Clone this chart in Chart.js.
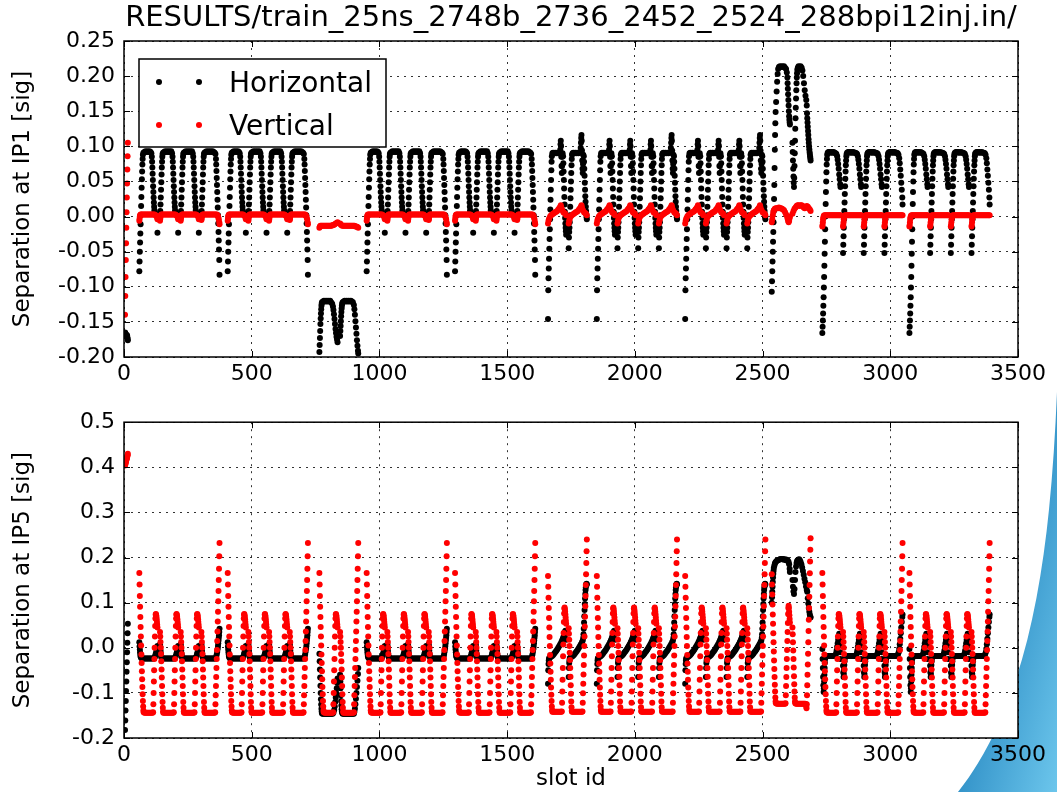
<!DOCTYPE html>
<html>
<head>
<meta charset="utf-8">
<title>Beam separation at IP1 and IP5</title>
<script src="https://cdn.jsdelivr.net/npm/chart.js@4.4.1/dist/chart.umd.min.js"></script>
<style>
  html, body { margin: 0; padding: 0; background: #fff; }
  body { width: 1057px; height: 792px; position: relative; overflow: hidden; }
  #swoosh { position: absolute; left: 0; top: 0; }
  canvas { position: absolute; left: 0; }
  #ip1Canvas { top: 0; }
  #ip5Canvas { top: 400px; }
</style>
</head>
<body>
<svg id="swoosh" width="1057" height="792">
  <defs>
    <linearGradient id="swooshFill" x1="0" y1="0" x2="1" y2="1">
      <stop offset="0" stop-color="#1d5a8a"/>
      <stop offset="0.45" stop-color="#2f8fc6"/>
      <stop offset="1" stop-color="#6cc6ec"/>
    </linearGradient>
  </defs>
  <path d="M1057,392 C1050,560 1030,700 958,792 L1057,792 Z" fill="url(#swooshFill)"/>
</svg>
<canvas id="ip1Canvas" width="1057" height="400"></canvas>
<canvas id="ip5Canvas" width="1057" height="392"></canvas>
<script>
// axis ticks
const slotTicks = [0, 500, 1000, 1500, 2000, 2500, 3000, 3500];
const ip1Ticks = [-0.20, -0.15, -0.10, -0.05, 0.00, 0.05, 0.10, 0.15, 0.20, 0.25];
const ip5Ticks = [-0.2, -0.1, 0.0, 0.1, 0.2, 0.3, 0.4, 0.5];

// filling scheme: 12 pilot bunches, then trains of 72-bunch batches
const pilotSlots = [4, 5, 6, 7, 8, 9, 10, 11, 12, 13, 14, 15];
const trainStarts = [60, 406, 765, 950, 1296, 1660, 1851, 2197, 2536, 2734, 3075];
const trainBatches = [4, 4, 2, 4, 4, 2, 4, 4, 2, 4, 4];
const trainKinds = ['std', 'std', 'neg', 'std', 'std', 'ramp', 'ramp', 'ramp', 'high', 'wave', 'wave'];
const batchSpacing = 81;

// pilot bunches
const ip1H_pilot = [-0.165, -0.166, -0.167, -0.168, -0.169, -0.170, -0.171, -0.170, -0.169, -0.172, -0.174, -0.176];
const ip1V_pilot = [-0.140, -0.113, -0.086, -0.062, -0.038, -0.016, 0.006, 0.027, 0.047, 0.067, 0.086, 0.105];
const ip5H_pilot = [-0.182, -0.161, -0.139, -0.118, -0.096, -0.075, -0.053, -0.032, -0.010, 0.011, 0.032, 0.053];
const ip5V_pilot = [0.404, 0.406, 0.409, 0.411, 0.414, 0.416, 0.418, 0.420, 0.422, 0.425, 0.427, 0.430];

// IP1 horizontal, [bunch in batch, separation]
const ip1H_stdFirst = [[0,-0.078],[1,-0.064],[2,-0.050],[3,-0.037],[4,-0.024],[5,-0.011],[6,0.002],[7,0.015],[8,0.028],[9,0.041],[10,0.053],[11,0.064],[12,0.074],[13,0.082],[14,0.088],[16,0.091],[20,0.092],[24,0.093],[28,0.092],[32,0.093],[36,0.092],[40,0.093],[44,0.092],[47,0.090],[49,0.085],[50,0.078],[51,0.070],[52,0.061],[53,0.052],[54,0.043],[55,0.035],[56,0.027],[57,0.020],[58,0.014],[59,0.009],[60,0.006],[62,0.004],[65,0.003],[68,0.003],[71,-0.023]];
const ip1H_stdMid = [[0,0.000],[1,0.008],[2,0.017],[3,0.027],[4,0.038],[5,0.049],[6,0.060],[7,0.070],[8,0.078],[9,0.085],[10,0.089],[12,0.091],[16,0.092],[20,0.093],[24,0.092],[28,0.093],[32,0.092],[36,0.093],[40,0.092],[44,0.093],[47,0.090],[49,0.085],[50,0.078],[51,0.070],[52,0.061],[53,0.052],[54,0.043],[55,0.035],[56,0.027],[57,0.020],[58,0.014],[59,0.009],[60,0.006],[62,0.004],[65,0.003],[68,0.003],[71,-0.023]];
const ip1H_stdLast = [[0,0.000],[1,0.008],[2,0.017],[3,0.027],[4,0.038],[5,0.049],[6,0.060],[7,0.070],[8,0.078],[9,0.085],[10,0.089],[12,0.091],[16,0.092],[20,0.093],[24,0.092],[28,0.093],[32,0.092],[36,0.093],[40,0.092],[44,0.093],[48,0.092],[52,0.091],[55,0.089],[57,0.082],[58,0.074],[59,0.065],[60,0.055],[61,0.045],[62,0.035],[63,0.024],[64,0.013],[65,0.002],[66,-0.010],[67,-0.022],[68,-0.034],[69,-0.047],[70,-0.062],[71,-0.083]];
const ip1H_negFirst = [[0,-0.193],[1,-0.183],[2,-0.173],[3,-0.163],[4,-0.153],[5,-0.145],[6,-0.138],[7,-0.132],[8,-0.127],[9,-0.124],[10,-0.122],[14,-0.121],[18,-0.120],[22,-0.121],[26,-0.120],[30,-0.121],[34,-0.120],[38,-0.121],[42,-0.120],[46,-0.122],[50,-0.124],[53,-0.128],[55,-0.133],[57,-0.139],[59,-0.146],[61,-0.153],[63,-0.160],[65,-0.166],[67,-0.171],[69,-0.175],[71,-0.179]];
const ip1H_negLast = [[0,-0.170],[1,-0.163],[2,-0.156],[3,-0.149],[4,-0.142],[5,-0.136],[6,-0.131],[7,-0.127],[8,-0.124],[10,-0.122],[14,-0.121],[18,-0.120],[22,-0.121],[26,-0.120],[30,-0.121],[34,-0.120],[38,-0.121],[42,-0.120],[46,-0.121],[50,-0.122],[54,-0.126],[56,-0.132],[58,-0.140],[60,-0.149],[62,-0.158],[64,-0.167],[66,-0.176],[68,-0.184],[70,-0.191],[71,-0.195]];
const ip1H_rampFirst = [[0,-0.146],[1,-0.105],[2,-0.088],[3,-0.074],[4,-0.060],[5,-0.046],[6,-0.032],[7,-0.018],[8,-0.004],[9,0.010],[10,0.024],[11,0.038],[12,0.052],[13,0.066],[14,0.078],[15,0.086],[17,0.090],[20,0.091],[24,0.090],[28,0.091],[32,0.090],[36,0.091],[40,0.090],[44,0.091],[48,0.095],[49,0.103],[50,0.108],[51,0.100],[52,0.085],[53,0.072],[54,0.062],[55,0.072],[56,0.085],[57,0.090],[59,0.086],[60,0.076],[61,0.064],[62,0.052],[63,0.040],[64,0.028],[65,0.017],[66,0.007],[67,-0.002],[68,-0.010],[69,-0.016],[70,-0.021],[71,-0.026]];
const ip1H_rampMid = [[0,-0.045],[1,-0.030],[2,-0.022],[3,-0.016],[4,-0.008],[5,0.002],[6,0.014],[7,0.026],[8,0.038],[9,0.050],[10,0.062],[11,0.073],[12,0.082],[13,0.088],[15,0.090],[18,0.091],[22,0.090],[26,0.091],[30,0.090],[34,0.091],[38,0.090],[42,0.091],[45,0.090],[48,0.095],[49,0.103],[50,0.108],[51,0.100],[52,0.085],[53,0.072],[54,0.062],[55,0.072],[56,0.085],[57,0.090],[59,0.086],[60,0.076],[61,0.064],[62,0.052],[63,0.040],[64,0.028],[65,0.017],[66,0.007],[67,-0.002],[68,-0.010],[69,-0.016],[70,-0.021],[71,-0.026]];
const ip1H_rampLast = [[0,-0.045],[1,-0.030],[2,-0.022],[3,-0.016],[4,-0.008],[5,0.002],[6,0.014],[7,0.026],[8,0.038],[9,0.050],[10,0.062],[11,0.073],[12,0.082],[13,0.088],[15,0.090],[18,0.091],[22,0.090],[26,0.091],[30,0.090],[34,0.091],[38,0.090],[42,0.091],[45,0.092],[47,0.098],[48,0.105],[49,0.112],[50,0.116],[51,0.108],[52,0.094],[53,0.080],[54,0.068],[55,0.062],[56,0.075],[57,0.088],[59,0.086],[60,0.078],[61,0.068],[62,0.058],[63,0.048],[64,0.038],[65,0.029],[66,0.021],[67,0.014],[68,0.008],[69,0.003],[70,-0.001],[71,-0.004]];
const ip1H_highFirst = [[0,-0.107],[1,-0.092],[2,-0.078],[3,-0.064],[4,-0.050],[5,-0.036],[6,-0.022],[7,-0.008],[8,0.008],[9,0.025],[10,0.045],[11,0.069],[12,0.095],[13,0.116],[14,0.133],[15,0.149],[17,0.163],[19,0.178],[21,0.192],[23,0.203],[25,0.210],[28,0.213],[32,0.214],[36,0.213],[40,0.214],[44,0.213],[48,0.214],[52,0.212],[56,0.210],[59,0.205],[61,0.198],[62,0.190],[63,0.182],[64,0.174],[65,0.166],[66,0.158],[67,0.150],[68,0.143],[69,0.138],[70,0.134],[71,0.131]];
const ip1H_highLast = [[0,0.105],[1,0.092],[2,0.080],[3,0.068],[4,0.057],[5,0.048],[6,0.042],[7,0.055],[8,0.072],[9,0.090],[10,0.108],[11,0.125],[12,0.140],[13,0.155],[14,0.168],[15,0.180],[16,0.190],[17,0.198],[18,0.204],[19,0.209],[21,0.212],[24,0.214],[28,0.213],[32,0.214],[36,0.212],[39,0.208],[42,0.200],[45,0.190],[48,0.180],[51,0.172],[54,0.166],[56,0.158],[57,0.147],[58,0.140],[59,0.134],[60,0.128],[61,0.122],[62,0.116],[63,0.110],[64,0.105],[65,0.100],[66,0.096],[67,0.092],[68,0.089],[69,0.086],[70,0.083],[71,0.080]];
const ip1H_waveFirst = [[0,-0.166],[1,-0.157],[2,-0.148],[3,-0.138],[4,-0.127],[5,-0.115],[6,-0.101],[7,-0.086],[8,-0.070],[9,-0.053],[10,-0.036],[11,-0.018],[12,0.000],[13,0.018],[14,0.035],[15,0.050],[16,0.063],[17,0.074],[18,0.082],[19,0.088],[21,0.091],[24,0.092],[28,0.092],[32,0.091],[36,0.092],[40,0.091],[44,0.092],[48,0.091],[52,0.090],[55,0.089],[58,0.086],[60,0.081],[62,0.075],[64,0.068],[66,0.060],[68,0.053],[70,0.046],[71,0.042]];
const ip1H_waveMid = [[0,-0.052],[1,-0.040],[2,-0.028],[3,-0.016],[4,-0.004],[5,0.008],[6,0.020],[7,0.032],[8,0.043],[9,0.054],[10,0.064],[11,0.073],[12,0.080],[13,0.086],[14,0.089],[16,0.091],[20,0.092],[24,0.092],[28,0.091],[32,0.092],[36,0.091],[40,0.092],[44,0.091],[48,0.091],[52,0.090],[55,0.089],[58,0.086],[60,0.081],[62,0.075],[64,0.068],[66,0.060],[68,0.053],[70,0.046],[71,0.042]];
const ip1H_waveLast = [[0,-0.052],[1,-0.040],[2,-0.028],[3,-0.016],[4,-0.004],[5,0.008],[6,0.020],[7,0.032],[8,0.043],[9,0.054],[10,0.064],[11,0.073],[12,0.080],[13,0.086],[14,0.089],[16,0.091],[20,0.092],[24,0.092],[28,0.091],[32,0.092],[36,0.091],[40,0.092],[44,0.091],[48,0.091],[52,0.090],[55,0.088],[58,0.083],[60,0.076],[62,0.067],[64,0.058],[66,0.048],[68,0.038],[70,0.027],[71,0.017]];

// IP1 vertical
const ip1V_stdBatch = [[0,-0.006],[1,-0.003],[2,0.000],[3,0.002],[5,0.003],[8,0.003],[12,0.003],[16,0.003],[20,0.003],[24,0.003],[28,0.003],[32,0.003],[36,0.003],[40,0.003],[44,0.003],[48,0.003],[52,0.003],[56,0.003],[60,0.003],[64,0.002],[67,0.001],[69,-0.001],[71,-0.004]];
const ip1V_stdLast = [[0,-0.005],[1,-0.003],[2,0.000],[3,0.002],[5,0.003],[8,0.003],[12,0.003],[16,0.003],[20,0.003],[24,0.003],[28,0.003],[32,0.003],[36,0.003],[40,0.003],[44,0.003],[48,0.003],[52,0.003],[56,0.003],[60,0.003],[62,0.002],[64,0.001],[66,-0.001],[68,-0.004],[70,-0.008],[71,-0.011]];
const ip1V_negFirst = [[0,-0.016],[2,-0.014],[4,-0.013],[8,-0.013],[12,-0.013],[16,-0.013],[20,-0.013],[24,-0.013],[28,-0.013],[32,-0.013],[36,-0.013],[40,-0.013],[44,-0.013],[48,-0.013],[52,-0.012],[56,-0.012],[60,-0.011],[64,-0.010],[68,-0.009],[71,-0.008]];
const ip1V_negLast = [[0,-0.010],[2,-0.011],[4,-0.012],[8,-0.013],[12,-0.013],[16,-0.013],[20,-0.013],[24,-0.013],[28,-0.013],[32,-0.013],[36,-0.013],[40,-0.013],[44,-0.013],[48,-0.013],[52,-0.013],[56,-0.013],[60,-0.014],[64,-0.014],[68,-0.015],[71,-0.016]];
const ip1V_ramp = [[0,-0.010],[2,-0.006],[4,-0.003],[8,0.000],[12,0.002],[16,0.003],[20,0.004],[24,0.005],[28,0.006],[32,0.007],[36,0.008],[40,0.010],[44,0.012],[48,0.014],[50,0.016],[52,0.013],[56,0.009],[60,0.006],[64,0.005],[68,0.004],[71,0.002]];
const ip1V_highFirst = [[0,-0.008],[2,-0.004],[4,0.002],[6,0.006],[8,0.009],[12,0.011],[16,0.012],[20,0.012],[24,0.012],[28,0.013],[32,0.012],[36,0.012],[40,0.011],[44,0.010],[48,0.009],[52,0.006],[56,0.003],[60,0.000],[62,-0.003],[64,-0.006],[66,-0.008],[68,-0.006],[70,-0.002],[71,0.000]];
const ip1V_highLast = [[0,0.004],[4,0.008],[8,0.011],[12,0.013],[16,0.015],[20,0.016],[24,0.016],[28,0.015],[32,0.016],[36,0.016],[40,0.015],[44,0.013],[48,0.012],[52,0.013],[56,0.015],[60,0.014],[64,0.012],[68,0.010],[71,0.008]];
const ip1V_wave = [[0,-0.014],[1,-0.012],[2,-0.008],[3,-0.004],[4,-0.001],[6,0.001],[8,0.002],[12,0.002],[16,0.002],[20,0.002],[24,0.002],[28,0.002],[32,0.002],[36,0.002],[40,0.002],[44,0.002],[48,0.002],[52,0.002],[56,0.002],[60,0.002],[64,0.002],[68,0.002],[71,0.002]];

// IP5 horizontal
const ip5H_stdFirst = [[0,0.012],[1,0.003],[2,-0.004],[3,-0.010],[4,-0.015],[5,-0.019],[6,-0.021],[8,-0.023],[12,-0.024],[16,-0.024],[20,-0.024],[24,-0.024],[28,-0.024],[32,-0.024],[36,-0.024],[40,-0.024],[44,-0.024],[48,-0.024],[52,-0.024],[56,-0.024],[58,-0.023],[60,-0.021],[62,-0.018],[64,-0.014],[66,-0.010],[68,-0.005],[70,0.000],[71,0.004]];
const ip5H_stdMid = [[0,0.008],[1,0.002],[2,-0.006],[3,-0.012],[4,-0.017],[5,-0.020],[6,-0.022],[8,-0.023],[12,-0.024],[16,-0.024],[20,-0.024],[24,-0.024],[28,-0.024],[32,-0.024],[36,-0.024],[40,-0.024],[44,-0.024],[48,-0.024],[52,-0.024],[56,-0.024],[58,-0.023],[60,-0.021],[62,-0.018],[64,-0.014],[66,-0.010],[68,-0.005],[70,0.000],[71,0.004]];
const ip5H_stdLast = [[0,0.008],[1,0.002],[2,-0.006],[3,-0.012],[4,-0.017],[5,-0.020],[6,-0.022],[8,-0.023],[12,-0.024],[16,-0.024],[20,-0.024],[24,-0.024],[28,-0.024],[32,-0.024],[36,-0.024],[40,-0.024],[44,-0.024],[48,-0.024],[52,-0.024],[56,-0.024],[58,-0.020],[60,-0.015],[62,-0.009],[64,-0.002],[65,0.004],[66,0.010],[67,0.016],[68,0.022],[69,0.028],[70,0.035],[71,0.042]];
const ip5H_negFirst = [[0,-0.013],[1,-0.030],[2,-0.048],[3,-0.066],[4,-0.084],[5,-0.100],[6,-0.114],[7,-0.126],[8,-0.135],[9,-0.141],[10,-0.145],[12,-0.146],[16,-0.146],[20,-0.146],[24,-0.146],[28,-0.146],[32,-0.146],[36,-0.146],[40,-0.146],[44,-0.146],[48,-0.146],[52,-0.146],[55,-0.144],[58,-0.138],[60,-0.130],[62,-0.120],[64,-0.110],[66,-0.100],[68,-0.090],[70,-0.078],[71,-0.068]];
const ip5H_negLast = [[0,-0.060],[1,-0.075],[2,-0.090],[3,-0.105],[4,-0.118],[5,-0.128],[6,-0.136],[7,-0.141],[8,-0.144],[10,-0.146],[14,-0.146],[18,-0.146],[22,-0.146],[26,-0.146],[30,-0.146],[34,-0.146],[38,-0.146],[42,-0.146],[46,-0.146],[50,-0.146],[54,-0.146],[56,-0.142],[58,-0.135],[60,-0.125],[62,-0.113],[64,-0.100],[66,-0.087],[68,-0.073],[70,-0.058],[71,-0.045]];
const ip5H_rampFirst = [[0,-0.080],[1,-0.050],[2,-0.036],[3,-0.028],[4,-0.024],[6,-0.022],[8,-0.021],[12,-0.020],[16,-0.018],[20,-0.016],[24,-0.013],[28,-0.010],[32,-0.007],[36,-0.004],[40,0.000],[44,0.004],[48,0.008],[52,0.012],[55,0.016],[58,0.020],[60,0.023],[62,0.027],[64,0.031],[66,0.035],[68,0.038],[70,0.030],[71,0.018]];
const ip5H_rampMid = [[0,-0.065],[1,-0.045],[2,-0.034],[3,-0.028],[4,-0.024],[6,-0.022],[8,-0.021],[12,-0.020],[16,-0.018],[20,-0.016],[24,-0.013],[28,-0.010],[32,-0.007],[36,-0.004],[40,0.000],[44,0.004],[48,0.008],[52,0.012],[55,0.016],[58,0.020],[60,0.023],[62,0.027],[64,0.031],[66,0.035],[68,0.038],[70,0.030],[71,0.018]];
const ip5H_rampLast = [[0,-0.065],[1,-0.045],[2,-0.034],[3,-0.028],[4,-0.024],[6,-0.022],[8,-0.021],[12,-0.020],[16,-0.018],[20,-0.016],[24,-0.013],[28,-0.010],[32,-0.007],[36,-0.004],[40,0.000],[44,0.004],[48,0.008],[52,0.012],[55,0.016],[57,0.022],[58,0.030],[59,0.042],[60,0.056],[61,0.070],[62,0.084],[63,0.097],[64,0.109],[65,0.119],[66,0.128],[67,0.134],[68,0.139],[69,0.141],[70,0.142],[71,0.140]];
const ip5H_highFirst = [[0,0.100],[1,0.112],[2,0.124],[3,0.135],[4,0.146],[5,0.156],[6,0.164],[7,0.171],[8,0.177],[10,0.182],[12,0.186],[14,0.189],[17,0.191],[20,0.193],[24,0.194],[28,0.195],[32,0.196],[36,0.197],[40,0.196],[44,0.197],[48,0.195],[52,0.196],[56,0.194],[60,0.195],[63,0.193],[66,0.190],[68,0.185],[70,0.175],[71,0.168]];
const ip5H_highLast = [[0,0.150],[2,0.135],[4,0.125],[6,0.119],[8,0.130],[10,0.150],[12,0.168],[14,0.180],[16,0.188],[18,0.192],[20,0.194],[23,0.195],[26,0.196],[29,0.194],[32,0.190],[35,0.185],[38,0.178],[41,0.170],[44,0.162],[47,0.153],[50,0.145],[53,0.136],[56,0.128],[58,0.124],[60,0.110],[62,0.098],[64,0.088],[66,0.080],[68,0.074],[70,0.069],[71,0.067]];
const ip5H_waveFirst = [[0,-0.003],[1,-0.025],[2,-0.045],[3,-0.065],[4,-0.083],[5,-0.098],[6,-0.090],[7,-0.075],[8,-0.060],[9,-0.045],[10,-0.033],[11,-0.025],[12,-0.021],[14,-0.019],[18,-0.018],[22,-0.018],[26,-0.018],[30,-0.018],[34,-0.018],[38,-0.018],[42,-0.018],[46,-0.018],[50,-0.018],[52,-0.016],[54,-0.012],[56,-0.006],[58,0.002],[60,0.010],[62,0.018],[64,0.025],[66,0.031],[67,0.028],[68,0.018],[69,0.005],[70,-0.010],[71,-0.025]];
const ip5H_waveMid = [[0,-0.040],[1,-0.055],[2,-0.065],[3,-0.058],[4,-0.048],[5,-0.038],[6,-0.030],[7,-0.024],[8,-0.020],[10,-0.018],[14,-0.018],[18,-0.018],[22,-0.018],[26,-0.018],[30,-0.018],[34,-0.018],[38,-0.018],[42,-0.018],[46,-0.018],[50,-0.018],[52,-0.016],[54,-0.012],[56,-0.006],[58,0.002],[60,0.010],[62,0.018],[64,0.025],[66,0.031],[67,0.028],[68,0.018],[69,0.005],[70,-0.010],[71,-0.025]];
const ip5H_waveLast = [[0,-0.040],[1,-0.055],[2,-0.065],[3,-0.058],[4,-0.048],[5,-0.038],[6,-0.030],[7,-0.024],[8,-0.020],[10,-0.018],[14,-0.018],[18,-0.018],[22,-0.018],[26,-0.018],[30,-0.018],[34,-0.018],[38,-0.018],[42,-0.018],[46,-0.018],[50,-0.018],[53,-0.015],[56,-0.010],[58,-0.002],[60,0.008],[62,0.020],[64,0.032],[66,0.045],[68,0.057],[70,0.068],[71,0.074]];

// IP5 vertical
const ip5V_stdFirst = [[0,0.166],[1,0.140],[2,0.115],[3,0.091],[4,0.068],[5,0.046],[6,0.025],[7,0.005],[8,-0.015],[9,-0.034],[10,-0.052],[11,-0.070],[12,-0.087],[13,-0.103],[14,-0.118],[15,-0.130],[16,-0.139],[17,-0.143],[20,-0.144],[24,-0.144],[28,-0.144],[32,-0.144],[36,-0.144],[40,-0.144],[44,-0.144],[48,-0.144],[52,-0.144],[54,-0.143],[55,-0.125],[56,-0.100],[57,-0.075],[58,-0.050],[59,-0.025],[60,0.000],[61,0.025],[62,0.048],[63,0.065],[64,0.074],[65,0.075],[66,0.072],[67,0.068],[68,0.063],[69,0.057],[70,0.051],[71,0.045]];
const ip5V_stdMid = [[0,0.035],[1,0.025],[2,0.013],[3,0.000],[4,-0.014],[5,-0.030],[6,-0.048],[7,-0.066],[8,-0.085],[9,-0.103],[10,-0.120],[11,-0.133],[12,-0.141],[13,-0.144],[16,-0.144],[20,-0.144],[24,-0.144],[28,-0.144],[32,-0.144],[36,-0.144],[40,-0.144],[44,-0.144],[48,-0.144],[52,-0.144],[54,-0.143],[55,-0.125],[56,-0.100],[57,-0.075],[58,-0.050],[59,-0.025],[60,0.000],[61,0.025],[62,0.048],[63,0.065],[64,0.074],[65,0.075],[66,0.072],[67,0.068],[68,0.063],[69,0.057],[70,0.051],[71,0.045]];
const ip5V_stdLast = [[0,0.035],[1,0.025],[2,0.013],[3,0.000],[4,-0.014],[5,-0.030],[6,-0.048],[7,-0.066],[8,-0.085],[9,-0.103],[10,-0.120],[11,-0.133],[12,-0.141],[13,-0.144],[16,-0.144],[20,-0.144],[24,-0.144],[28,-0.144],[32,-0.144],[36,-0.144],[40,-0.144],[44,-0.144],[48,-0.144],[52,-0.144],[54,-0.143],[55,-0.125],[56,-0.105],[57,-0.085],[58,-0.065],[59,-0.045],[60,-0.025],[61,-0.005],[62,0.015],[63,0.036],[64,0.058],[65,0.080],[66,0.103],[67,0.126],[68,0.150],[69,0.175],[70,0.203],[71,0.232]];
const ip5V_rampFirst = [[0,0.159],[1,0.135],[2,0.111],[3,0.088],[4,0.066],[5,0.045],[6,0.024],[7,0.004],[8,-0.016],[9,-0.035],[10,-0.053],[11,-0.071],[12,-0.088],[13,-0.104],[14,-0.118],[15,-0.130],[16,-0.138],[17,-0.142],[20,-0.142],[24,-0.142],[28,-0.142],[32,-0.142],[36,-0.142],[40,-0.142],[44,-0.142],[48,-0.142],[52,-0.142],[54,-0.141],[55,-0.122],[56,-0.097],[57,-0.071],[58,-0.045],[59,-0.019],[60,0.007],[61,0.033],[62,0.057],[63,0.076],[64,0.087],[65,0.089],[66,0.085],[67,0.080],[68,0.074],[69,0.067],[70,0.060],[71,0.053]];
const ip5V_rampMid = [[0,0.043],[1,0.031],[2,0.018],[3,0.004],[4,-0.011],[5,-0.027],[6,-0.045],[7,-0.064],[8,-0.083],[9,-0.102],[10,-0.119],[11,-0.132],[12,-0.140],[13,-0.142],[16,-0.142],[20,-0.142],[24,-0.142],[28,-0.142],[32,-0.142],[36,-0.142],[40,-0.142],[44,-0.142],[48,-0.142],[52,-0.142],[54,-0.141],[55,-0.122],[56,-0.097],[57,-0.071],[58,-0.045],[59,-0.019],[60,0.007],[61,0.033],[62,0.057],[63,0.076],[64,0.087],[65,0.089],[66,0.085],[67,0.080],[68,0.074],[69,0.067],[70,0.060],[71,0.053]];
const ip5V_rampLast = [[0,0.043],[1,0.031],[2,0.018],[3,0.004],[4,-0.011],[5,-0.027],[6,-0.045],[7,-0.064],[8,-0.083],[9,-0.102],[10,-0.119],[11,-0.132],[12,-0.140],[13,-0.142],[16,-0.142],[20,-0.142],[24,-0.142],[28,-0.142],[32,-0.142],[36,-0.142],[40,-0.142],[44,-0.142],[48,-0.142],[52,-0.142],[54,-0.141],[55,-0.122],[56,-0.101],[57,-0.080],[58,-0.059],[59,-0.038],[60,-0.017],[61,0.004],[62,0.025],[63,0.047],[64,0.069],[65,0.092],[66,0.115],[67,0.139],[68,0.163],[69,0.188],[70,0.214],[71,0.240]];
const ip5V_highFirst = [[0,0.163],[1,0.140],[2,0.118],[3,0.096],[4,0.074],[5,0.053],[6,0.032],[7,0.012],[8,-0.008],[9,-0.028],[10,-0.047],[11,-0.065],[12,-0.082],[13,-0.097],[14,-0.110],[15,-0.119],[16,-0.123],[20,-0.124],[24,-0.124],[28,-0.124],[32,-0.124],[36,-0.124],[40,-0.124],[44,-0.124],[48,-0.124],[52,-0.124],[54,-0.123],[55,-0.105],[56,-0.085],[57,-0.065],[58,-0.045],[59,-0.025],[60,-0.005],[61,0.015],[62,0.035],[63,0.055],[64,0.075],[65,0.088],[66,0.093],[67,0.088],[68,0.080],[69,0.072],[70,0.064],[71,0.056]];
const ip5V_highLast = [[0,0.045],[1,0.030],[2,0.012],[3,-0.006],[4,-0.025],[5,-0.044],[6,-0.063],[7,-0.081],[8,-0.097],[9,-0.110],[10,-0.119],[11,-0.123],[14,-0.124],[18,-0.124],[22,-0.124],[26,-0.124],[30,-0.124],[34,-0.124],[38,-0.124],[42,-0.124],[46,-0.124],[50,-0.124],[52,-0.125],[54,-0.130],[55,-0.134],[56,-0.125],[57,-0.105],[58,-0.083],[59,-0.060],[60,-0.037],[61,-0.013],[62,0.012],[63,0.037],[64,0.062],[65,0.088],[66,0.113],[67,0.139],[68,0.165],[69,0.191],[70,0.217],[71,0.243]];

// batch profile used for each kind of train and place in the train
const ip1HShapes = {
  std:  { first: ip1H_stdFirst, mid: ip1H_stdMid, last: ip1H_stdLast },
  neg:  { first: ip1H_negFirst, last: ip1H_negLast },
  ramp: { first: ip1H_rampFirst, mid: ip1H_rampMid, last: ip1H_rampLast },
  high: { first: ip1H_highFirst, last: ip1H_highLast },
  wave: { first: ip1H_waveFirst, mid: ip1H_waveMid, last: ip1H_waveLast }
};
const ip1VShapes = {
  std:  { first: ip1V_stdBatch, mid: ip1V_stdBatch, last: ip1V_stdLast },
  neg:  { first: ip1V_negFirst, last: ip1V_negLast },
  ramp: { first: ip1V_ramp, mid: ip1V_ramp, last: ip1V_ramp },
  high: { first: ip1V_highFirst, last: ip1V_highLast },
  wave: { first: ip1V_wave, mid: ip1V_wave, last: ip1V_wave }
};
const ip5HShapes = {
  std:  { first: ip5H_stdFirst, mid: ip5H_stdMid, last: ip5H_stdLast },
  neg:  { first: ip5H_negFirst, last: ip5H_negLast },
  ramp: { first: ip5H_rampFirst, mid: ip5H_rampMid, last: ip5H_rampLast },
  high: { first: ip5H_highFirst, last: ip5H_highLast },
  wave: { first: ip5H_waveFirst, mid: ip5H_waveMid, last: ip5H_waveLast }
};
const ip5VShapes = {
  std:  { first: ip5V_stdFirst, mid: ip5V_stdMid, last: ip5V_stdLast },
  neg:  { first: ip5V_stdFirst, last: ip5V_stdLast },
  ramp: { first: ip5V_rampFirst, mid: ip5V_rampMid, last: ip5V_rampLast },
  high: { first: ip5V_highFirst, last: ip5V_highLast },
  wave: { first: ip5V_stdFirst, mid: ip5V_stdMid, last: ip5V_stdLast }
};

function batchRole(b, n) {
  if (b === 0) return 'first';
  return b === n - 1 ? 'last' : 'mid';
}

// one point per bunch: slot id and separation
function buildPoints(pilot, shapes) {
  const pts = pilotSlots.map((s, i) => ({ x: s, y: pilot[i] }));
  trainStarts.forEach((start, t) => {
    const n = trainBatches[t];
    for (let b = 0; b < n; b++) {
      const shape = shapes[trainKinds[t]][batchRole(b, n)];
      const firstSlot = start + b * batchSpacing;
      shape.forEach(([off, v]) => pts.push({ x: firstSlot + off, y: v }));
    }
  });
  return pts;
}

const FONT = '"DejaVu Sans", "Liberation Sans", sans-serif';
const tickFont = { family: FONT, size: 22 };
const labelFont = { family: FONT, size: 23 };
const DOT = 3;

// white axes patch, then box round the axes with inward tick marks on every side
const framePlugin = {
  id: 'frame',
  beforeDraw(chart) {
    const { ctx, chartArea: a } = chart;
    ctx.save();
    ctx.fillStyle = '#fff';
    ctx.fillRect(a.left, a.top, a.right - a.left, a.bottom - a.top);
    ctx.restore();
  },
  afterDraw(chart) {
    const { ctx, chartArea: a, scales } = chart;
    ctx.save();
    ctx.strokeStyle = '#000';
    ctx.lineWidth = 1;
    ctx.beginPath();
    scales.x.ticks.forEach(t => {
      const px = Math.round(scales.x.getPixelForValue(t.value)) + 0.5;
      ctx.moveTo(px, a.bottom); ctx.lineTo(px, a.bottom - 6);
      ctx.moveTo(px, a.top); ctx.lineTo(px, a.top + 6);
    });
    scales.y.ticks.forEach(t => {
      const py = Math.round(scales.y.getPixelForValue(t.value)) + 0.5;
      ctx.moveTo(a.left, py); ctx.lineTo(a.left + 6, py);
      ctx.moveTo(a.right, py); ctx.lineTo(a.right - 6, py);
    });
    ctx.stroke();
    ctx.lineWidth = 1.5;
    ctx.strokeRect(a.left, a.top, a.right - a.left, a.bottom - a.top);
    ctx.restore();
  }
};

// run title above the IP1 panel
const headlinePlugin = {
  id: 'headline',
  afterDraw(chart, args, opts) {
    if (!opts.text) return;
    const { ctx, chartArea: a } = chart;
    ctx.save();
    ctx.font = '29px ' + FONT;
    ctx.fillStyle = '#000';
    ctx.textAlign = 'center';
    ctx.textBaseline = 'alphabetic';
    ctx.fillText(opts.text, (a.left + a.right) / 2, 26);
    ctx.restore();
  }
};

// legend with two markers per entry
const dotLegendPlugin = {
  id: 'dotLegend',
  afterDraw(chart, args, opts) {
    if (!opts.show) return;
    const { ctx } = chart;
    const x = 139, y = 59, w = 247, h = 88;
    ctx.save();
    ctx.fillStyle = '#fff';
    ctx.fillRect(x, y, w, h);
    ctx.strokeStyle = '#000';
    ctx.lineWidth = 1.5;
    ctx.strokeRect(x, y, w, h);
    ctx.font = '28px ' + FONT;
    ctx.textBaseline = 'alphabetic';
    ctx.textAlign = 'left';
    const rows = [chart.data.datasets[1], chart.data.datasets[0]];
    rows.forEach((ds, i) => {
      const cy = y + 23 + i * 43;
      ctx.fillStyle = ds.pointBackgroundColor;
      [x + 20, x + 60].forEach(cx => {
        ctx.beginPath();
        ctx.arc(cx, cy, DOT, 0, Math.PI * 2);
        ctx.fill();
      });
      ctx.fillStyle = '#000';
      ctx.fillText(ds.label, x + 90, cy + 10);
    });
    ctx.restore();
  }
};

function makeChart(canvasId, opt) {
  const gridStyle = { color: 'rgba(0,0,0,0.8)', lineWidth: 1, drawTicks: false };
  const borderStyle = { display: false, dash: [2, 5] };
  return new Chart(document.getElementById(canvasId), {
    type: 'scatter',
    data: {
      datasets: [
        { label: 'Vertical', data: opt.v, pointBackgroundColor: '#ff0000', pointBorderWidth: 0,
          pointRadius: DOT, pointHoverRadius: 0, clip: 0, order: 0 },
        { label: 'Horizontal', data: opt.h, pointBackgroundColor: '#000000', pointBorderWidth: 0,
          pointRadius: DOT, pointHoverRadius: 0, clip: 0, order: 1 }
      ]
    },
    options: {
      responsive: false,
      animation: false,
      events: [],
      parsing: false,
      layout: { padding: { top: opt.padTop, right: 39, left: 0, bottom: 0 } },
      plugins: {
        legend: { display: false },
        tooltip: { enabled: false },
        headline: { text: opt.title || '' },
        dotLegend: { show: !!opt.legend }
      },
      scales: {
        x: {
          type: 'linear', min: 0, max: 3500,
          afterBuildTicks: s => { s.ticks = slotTicks.map(v => ({ value: v })); },
          afterFit: s => { s.height = opt.xHeight; },
          ticks: { font: tickFont, color: '#000', padding: 4, maxRotation: 0, autoSkip: false,
                   callback: v => String(v) },
          grid: gridStyle,
          border: borderStyle,
          title: { display: !!opt.xTitle, text: opt.xTitle || '', font: labelFont, color: '#000',
                   padding: { top: 0, bottom: -1 } }
        },
        y: {
          type: 'linear', min: opt.yTicks[0], max: opt.yTicks[opt.yTicks.length - 1],
          afterBuildTicks: s => { s.ticks = opt.yTicks.map(v => ({ value: v })); },
          afterFit: s => { s.width = 124; },
          ticks: { font: tickFont, color: '#000', padding: 9, autoSkip: false,
                   callback: v => v.toFixed(opt.digits) },
          grid: gridStyle,
          border: borderStyle,
          title: { display: true, text: opt.yTitle, font: labelFont, color: '#000',
                   padding: { top: 9, bottom: 0 } }
        }
      }
    },
    plugins: [framePlugin, headlinePlugin, dotLegendPlugin]
  });
}

makeChart('ip1Canvas', {
  h: buildPoints(ip1H_pilot, ip1HShapes),
  v: buildPoints(ip1V_pilot, ip1VShapes),
  yTicks: ip1Ticks, digits: 2,
  yTitle: 'Separation at IP1 [sig]',
  title: 'RESULTS/train_25ns_2748b_2736_2452_2524_288bpi12inj.in/',
  legend: true,
  padTop: 41, xHeight: 43
});

makeChart('ip5Canvas', {
  h: buildPoints(ip5H_pilot, ip5HShapes),
  v: buildPoints(ip5V_pilot, ip5VShapes),
  yTicks: ip5Ticks, digits: 1,
  yTitle: 'Separation at IP5 [sig]',
  xTitle: 'slot id',
  padTop: 20, xHeight: 54
});
</script>
</body>
</html>
